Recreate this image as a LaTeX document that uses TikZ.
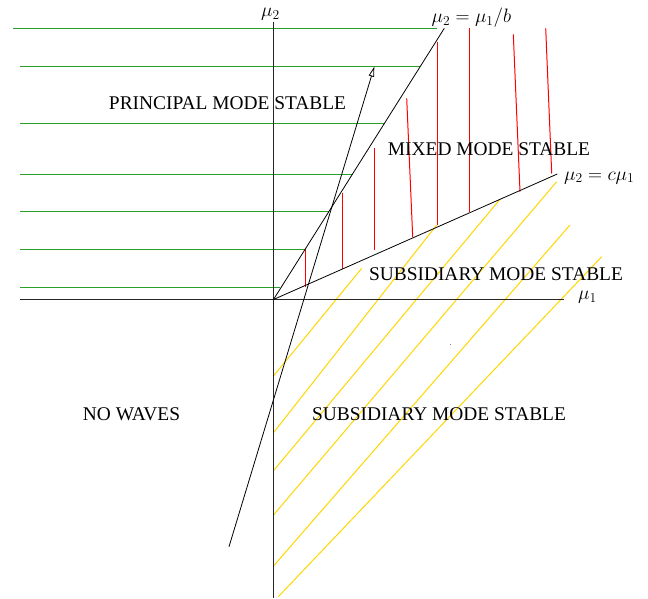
\RequirePackage{fix-cm}
\documentclass[tikz,border=0pt]{standalone}
\usepackage[no-math]{fontspec}
\setmainfont{Liberation Serif}
\usetikzlibrary{arrows.meta}
\definecolor{hgreen}{RGB}{40,160,40}
\definecolor{hyellow}{RGB}{255,214,0}
\definecolor{hred}{RGB}{255,0,0}
\tikzset{
  axisline/.style={line width=1pt, black!85},
  bline/.style={line width=0.8pt, black},
  gline/.style={line width=1pt, hgreen},
  rline/.style={line width=1pt, hred},
  yline/.style={line width=1pt, hyellow},
  lbl/.style={font=\fontsize{19.4}{23}\selectfont, inner sep=0pt},
  mlbl/.style={font=\fontsize{19.4}{23}\selectfont, inner sep=0pt, anchor=base west},
}
\begin{document}
\begin{tikzpicture}[x=1pt,y=-1pt]
\useasboundingbox (0,0) rectangle (648,599);
% key points
\coordinate (O) at (273.5,299.5);
\coordinate (yT) at (273.5,21.7);
\coordinate (yB) at (273.5,598);
\coordinate (xL) at (20,299.5);
\coordinate (xR) at (564,299.5);
\coordinate (bT) at (444.3,28.3);
\coordinate (cT) at (557.3,174);
\coordinate (sB) at (229,546.7);
\coordinate (sT) at (374.3,66.7);
% green hatching (principal mode stable)
\foreach \y/\xa/\xb in {28.5/13.3/436.7, 66.5/20/420, 123.5/20/384.5, 174.5/20/353, 211.5/20/329, 249.5/20/305.5, 287.5/20/280}
  \draw[gline] (\xa,\y) -- (\xb,\y);
% red hatching (mixed mode stable)
\foreach \xa/\ya/\xb/\yb in {305.5/249.3/305.5/286.5, 342.5/193.3/342.5/268.5, 374.5/148/374.5/250, 406.7/98.3/412.7/237, 437.5/41.7/437.5/224.5, 469.5/28.3/469.5/211.7, 513.3/34.3/520/191.7, 545.7/28.3/551.7/173.5}
  \draw[rline] (\xa,\ya) -- (\xb,\yb);
% yellow hatching (subsidiary mode stable)
\foreach \xa/\ya/\xb/\yb in {273.5/376/361.7/268.3, 273.5/432.7/436.7/225, 273.5/470.7/500/199.3, 273.5/515/556.7/181.7, 273.5/566/570/225, 278.3/596.7/601.7/256.7}
  \draw[yline] (\xa,\ya) -- (\xb,\yb);
% axes
\draw[axisline] (yT) -- (yB);
\draw[axisline] (xL) -- (xR);
% boundary lines
\draw[bline] (O) -- (bT);
\draw[bline] (O) -- (cT);
\draw[bline, -{Triangle[open,length=10pt,width=5.5pt]}] (sB) -- (sT);
% stray dot
\fill[black!50] (449.6,343.8) rectangle (450.4,345);
% labels
\node[mlbl] (lmu2) at (261,16.2) {$\mu_2$};
\node[mlbl] (lmu1) at (578,299.5) {$\mu_1$};
\node[mlbl] (lb) at (431.5,22.9) {$\mu_2=\mu_1/b$};
\node[mlbl] (lc) at (564,180) {$\mu_2=c\mu_1$};
\node[lbl] (tp) at (227.5,103) {PRINCIPAL MODE STABLE};
\node[lbl] (tm) at (489,149) {MIXED MODE STABLE};
\node[lbl] (ts1) at (496,274) {SUBSIDIARY MODE STABLE};
\node[lbl] (ts2) at (439,414) {SUBSIDIARY MODE STABLE};
\node[lbl] (tn) at (131.5,414) {NO WAVES};
\end{tikzpicture}
\end{document}
